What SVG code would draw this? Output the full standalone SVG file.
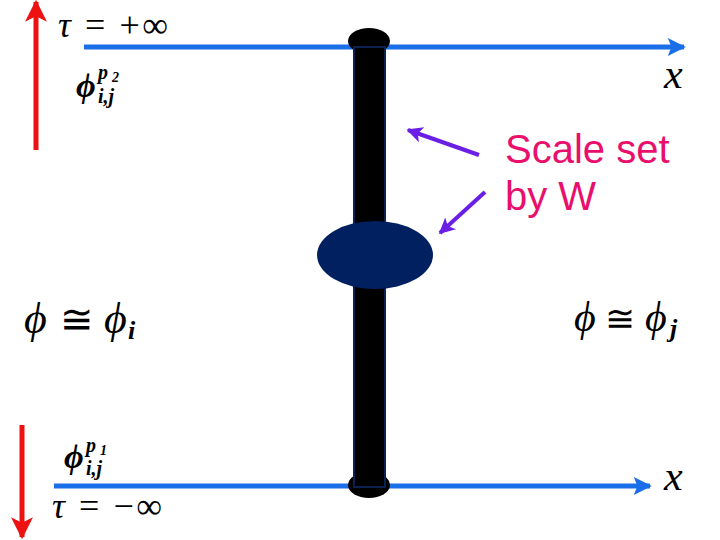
<svg xmlns="http://www.w3.org/2000/svg" width="720" height="540" viewBox="0 0 720 540">
<defs>
<style>
.m{font-family:"Liberation Serif","DejaVu Serif",serif;fill:#000}
.it{font-family:"Liberation Serif","DejaVu Serif",serif;font-style:italic;fill:#000}
.bi{font-family:"Liberation Serif","DejaVu Serif",serif;font-style:italic;font-weight:bold;fill:#000}
.lbl{font-family:"Liberation Sans",Arial,sans-serif;fill:#e8106c;font-size:40px}
.blue{stroke:#1a6ee8;stroke-width:5;fill:none}
.red{stroke:#ee1111;stroke-width:5;fill:none}
.pur{stroke:#6a1ee6;stroke-width:4;fill:none}
</style>
<marker id="ab" viewBox="0 0 10 10" refX="9" refY="5" markerWidth="4" markerHeight="3.6" orient="auto" markerUnits="strokeWidth"><path d="M0,0 L10,5 L0,10 L2,5 Z" fill="#1a6ee8"/></marker>
<marker id="ar" viewBox="0 0 10 10" refX="9" refY="5" markerWidth="4.4" markerHeight="4.4" orient="auto" markerUnits="strokeWidth"><path d="M0,0 L10,5 L0,10 L2.5,5 Z" fill="#ee1111"/></marker>
<marker id="ap" viewBox="0 0 10 10" refX="9" refY="5" markerWidth="4" markerHeight="4" orient="auto" markerUnits="strokeWidth"><path d="M0,0 L10,5 L0,10 L2.5,5 Z" fill="#6a1ee6"/></marker>
</defs>
<g id="connectors">
<line id="tau-up" class="red" x1="36" y1="150" x2="36" y2="2" marker-end="url(#ar)"/>
<line id="tau-down" class="red" x1="22" y1="425" x2="22" y2="537" marker-end="url(#ar)"/>
<line id="x-top" class="blue" x1="84" y1="47" x2="684" y2="47" marker-end="url(#ab)"/>
<line id="x-bottom" class="blue" x1="54" y1="486" x2="650" y2="486" marker-end="url(#ab)"/>
<line id="pa1" class="pur" x1="479" y1="155" x2="408" y2="130" marker-end="url(#ap)"/>
<line id="pa2" class="pur" x1="485" y1="192" x2="440" y2="233" marker-end="url(#ap)"/>
</g>
<g id="string">
<ellipse cx="369" cy="41" rx="21" ry="13" fill="#000"/>
<ellipse cx="369" cy="485" rx="21" ry="13" fill="#000"/>
<rect x="354" y="47" width="31" height="440" fill="#000" stroke="#0c2150" stroke-width="2"/>
</g>
<g id="blob">
<ellipse cx="375" cy="255" rx="58" ry="34" fill="#002060"/>
</g>
<g id="labels">
<g id="tau-plus"><text class="m" x="58" y="37" font-size="36" textLength="110" lengthAdjust="spacing"><tspan font-style="italic">τ</tspan> = +∞</text></g>
<g id="phi-p2">
<text class="bi" x="76" y="97" font-size="34">ϕ</text>
<text class="bi" x="98" y="79" font-size="20">p</text>
<text class="bi" x="112" y="82" font-size="14">2</text>
<text class="bi" x="98" y="103" font-size="20">i,j</text>
</g>
<text class="it" x="664" y="88" font-size="42">x</text>
<text class="it" x="664" y="490" font-size="42">x</text>
<g id="phi-p1">
<text class="bi" x="64" y="468" font-size="34">ϕ</text>
<text class="bi" x="86" y="452" font-size="20">p</text>
<text class="bi" x="100" y="455" font-size="14">1</text>
<text class="bi" x="86" y="475" font-size="20">i,j</text>
</g>
<g id="tau-minus"><text class="m" x="52" y="518" font-size="36" textLength="110" lengthAdjust="spacing"><tspan font-style="italic">τ</tspan> = −∞</text></g>
<g id="phi-i">
<text class="it" x="24" y="333" font-size="44">ϕ</text>
<text class="m" x="60" y="333" font-size="40">≅</text>
<text class="it" x="104" y="333" font-size="44">ϕ</text>
<text class="bi" x="128" y="339" font-size="26">i</text>
</g>
<g id="phi-j">
<text class="it" x="574" y="331" font-size="42">ϕ</text>
<text class="m" x="605" y="331" font-size="36">≅</text>
<text class="it" x="645" y="331" font-size="42">ϕ</text>
<text class="bi" x="670" y="337" font-size="26">j</text>
</g>
<text class="lbl" x="505" y="163">Scale set</text>
<text class="lbl" x="505" y="210">by W</text>
</g>
</svg>
